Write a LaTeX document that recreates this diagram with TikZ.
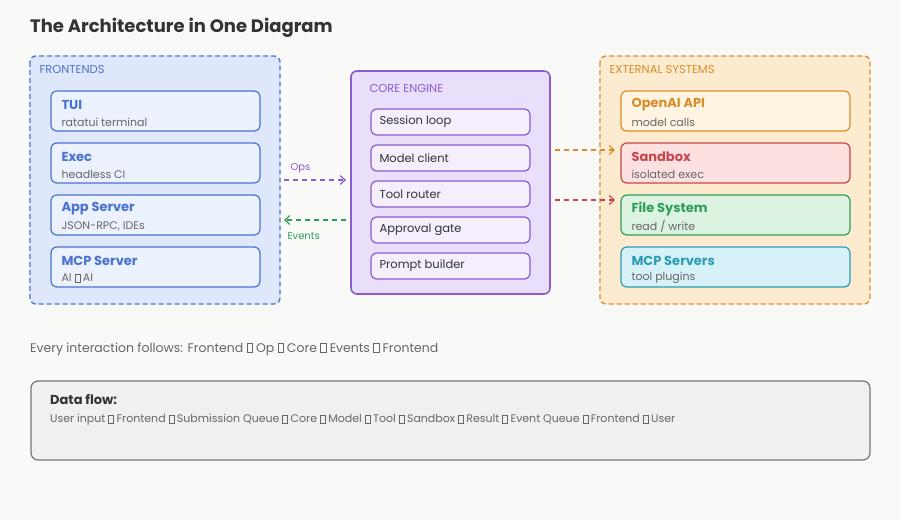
\documentclass[tikz,border=0pt]{standalone}
\usepackage{fontspec}
\setmainfont{Poppins}
\usetikzlibrary{arrows.meta}
\definecolor{bgc}{HTML}{F9F9F7}
\definecolor{inkc}{HTML}{333333}
\definecolor{grayc}{HTML}{666666}
\definecolor{bluec}{HTML}{4A72D0}
\definecolor{bluefill}{HTML}{DFE8FB}
\definecolor{blueinner}{HTML}{EBF1FD}
\definecolor{purplec}{HTML}{8A5CD0}
\definecolor{purplefill}{HTML}{EADFFB}
\definecolor{purpleinner}{HTML}{F4EEFD}
\definecolor{orangec}{HTML}{D98C2C}
\definecolor{orangefill}{HTML}{FDEBD0}
\definecolor{orangeinner}{HTML}{FEF4E2}
\definecolor{redc}{HTML}{C8454C}
\definecolor{redinner}{HTML}{FDE1E1}
\definecolor{greenc}{HTML}{2E9E5B}
\definecolor{greeninner}{HTML}{DCF3E2}
\definecolor{tealc}{HTML}{2A9DB5}
\definecolor{tealinner}{HTML}{D6F2F8}
\newcommand{\tofu}{\tikz[baseline=0pt]\draw[line width=0.4pt] (0,0) rectangle (0.45em,0.72em);}
\begin{document}
\begin{tikzpicture}[x=1pt,y=1pt,yscale=-1,
  group/.style={draw,rounded corners=6pt,line width=1.3pt},
  card/.style={draw,rounded corners=6pt,line width=1.2pt},
  flow/.style={dashed,dash pattern=on 5pt off 4pt,line width=1.2pt,-{Straight Barb[length=5pt,width=9pt]}},
  grouplabel/.style={anchor=west,font=\fontsize{11.5}{13}\selectfont},
  head/.style={anchor=west,font=\fontsize{13}{15}\selectfont\bfseries},
  sub/.style={anchor=west,font=\fontsize{11}{13}\selectfont,text=grayc},
  item/.style={anchor=west,font=\fontsize{11.5}{13}\selectfont,text=inkc}]
\fill[bgc] (0,0) rectangle (900,520);
\node[anchor=west,inner sep=0pt,font=\fontsize{18}{20}\selectfont\bfseries,text=inkc] (title) at (30,28) {The Architecture in One Diagram};

% frontends
\draw[group,dashed,dash pattern=on 5pt off 3pt,bluec,fill=bluefill] (30,56) rectangle (280,304);
\node[grouplabel,text=bluec] (fe) at (36,69) {FRONTENDS};
\foreach \y/\t/\s [count=\i] in {91/TUI/ratatui terminal,143/Exec/headless CI,195/App Server/{JSON-RPC, IDEs},247/MCP Server/AI \tofu{} AI}{
  \draw[card,bluec,fill=blueinner] (51,\y) rectangle (260,\y+40);
  \node[head,text=bluec] (fe\i) at (58,\y+14) {\t};
  \node[sub] (fes\i) at (58,\y+31) {\s};
}

% core
\draw[group,purplec,fill=purplefill,line width=1.6pt] (351,71) rectangle (550,294);
\node[grouplabel,text=purplec] (core) at (366,88) {CORE ENGINE};
\foreach \y/\t [count=\i] in {109/Session loop,145/Model client,181/Tool router,217/Approval gate,253/Prompt builder}{
  \draw[card,purplec,fill=purpleinner] (371,\y) rectangle (530,\y+26);
  \node[item] (ce\i) at (376,\y+13) {\t};
}

% external
\draw[group,dashed,dash pattern=on 5pt off 3pt,orangec,fill=orangefill] (600,56) rectangle (870,304);
\node[grouplabel,text=orangec] (ext) at (606,69) {EXTERNAL SYSTEMS};
\foreach \y/\t/\s/\c [count=\i] in {91/OpenAI API/model calls/orange,143/Sandbox/isolated exec/red,195/File System/{read / write}/green,247/MCP Servers/tool plugins/teal}{
  \draw[card,\c c,fill=\c inner] (621,\y) rectangle (850,\y+40);
  \node[head,text=\c c] (ex\i) at (628,\y+14) {\t};
  \node[sub] (exs\i) at (628,\y+31) {\s};
}

% connectors
\coordinate (opsA) at (284,180); \coordinate (opsB) at (346,180);
\coordinate (evA) at (346,220); \coordinate (evB) at (284,220);
\draw[flow,purplec] (opsA) -- (opsB);
\node[sub,text=purplec,font=\fontsize{10}{12}\selectfont] (ops) at (287,168) {Ops};
\draw[flow,greenc] (evA) -- (evB);
\node[sub,text=greenc,font=\fontsize{10}{12}\selectfont] (ev) at (284,236) {Events};
\coordinate (oA) at (555,150); \coordinate (oB) at (615,150);
\coordinate (rA) at (555,200); \coordinate (rB) at (615,200);
\draw[flow,orangec] (oA) -- (oB);
\draw[flow,redc] (rA) -- (rB);

% footer
\node[anchor=west,inner sep=0pt,font=\fontsize{12.5}{14}\selectfont,text=grayc] (rule) at (30,349) {Every interaction follows: Frontend \tofu{} Op \tofu{} Core \tofu{} Events \tofu{} Frontend};
\draw[rounded corners=7pt,line width=1.2pt,draw=grayc!90,fill=black!6] (31,381) rectangle (870,460);
\node[anchor=west,inner sep=0pt,font=\fontsize{13}{15}\selectfont\bfseries,text=inkc] (df) at (50,399) {Data flow:};
\node[sub,inner sep=0pt] (dfl) at (50,420) {User input \tofu{} Frontend \tofu{} Submission Queue \tofu{} Core \tofu{} Model \tofu{} Tool \tofu{} Sandbox \tofu{} Result \tofu{} Event Queue \tofu{} Frontend \tofu{} User};
\end{tikzpicture}
\end{document}
